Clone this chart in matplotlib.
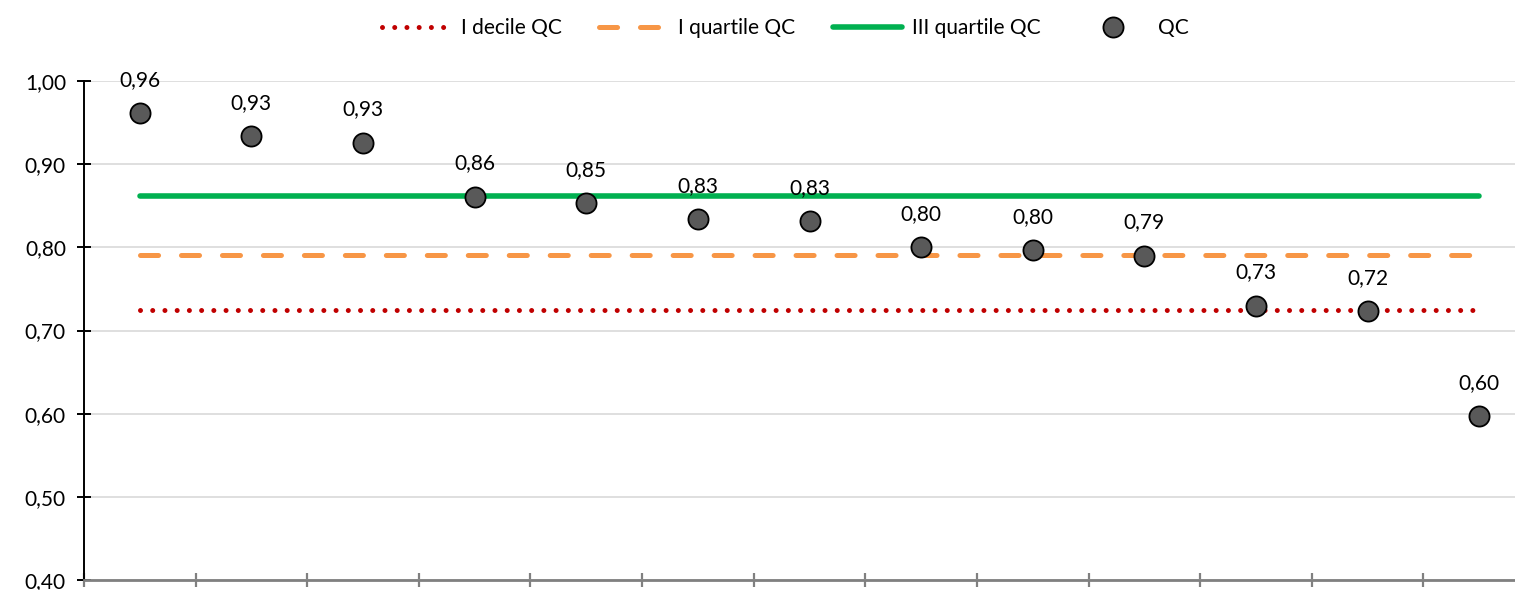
import matplotlib
matplotlib.use("Agg")
import matplotlib.pyplot as plt
from matplotlib.ticker import FuncFormatter, FixedLocator

plt.rcParams['font.family'] = ['Lato', 'DejaVu Sans']
plt.rcParams['lines.scale_dashes'] = False

# Data
categories = list(range(13))
qc_values = [0.961, 0.934, 0.926, 0.861, 0.853, 0.834, 0.832, 0.800, 0.797, 0.790, 0.730, 0.723, 0.597]
qc_labels = ["0,96", "0,93", "0,93", "0,86", "0,85", "0,83", "0,83", "0,80", "0,80", "0,79", "0,73", "0,72", "0,60"]
decile_1 = 0.725
quartile_1 = 0.791
quartile_3 = 0.862
y_ticks = [0.40, 0.50, 0.60, 0.70, 0.80, 0.90, 1.00]

FS = 15

fig = plt.figure(figsize=(15.15, 5.9), dpi=100)
ax = fig.add_axes([84/1515, 10/590, 1451/1515, (580-81)/590])

x_line = [categories[0], categories[-1]]
ax.plot(x_line, [decile_1]*2, color='#C00000', lw=3.6, dash_capstyle='round',
        linestyle=(0, (0.001, 8.8)), label='I decile QC', zorder=3)
ax.plot(x_line, [quartile_1]*2, color='#F79646', lw=3.6, dash_capstyle='round',
        linestyle=(0, (13, 16.5)), label='I quartile QC', zorder=3)
ax.plot(x_line, [quartile_3]*2, color='#00B050', lw=4, solid_capstyle='round',
        label='III quartile QC', zorder=3)
ax.plot(categories, qc_values, linestyle='none', marker='o', markersize=14.5,
        markerfacecolor='#595959', markeredgecolor='black', markeredgewidth=1.3,
        label='QC', zorder=4)

for x, v, lab in zip(categories, qc_values, qc_labels):
    ax.annotate(lab, (x, v), xytext=(0, 19.5), textcoords='offset points',
                ha='center', va='baseline', fontsize=FS, color='#000000',
                annotation_clip=False)

ax.set_xlim(-0.5, 12.5)
ax.set_ylim(0.40, 1.00)
ax.yaxis.set_major_locator(FixedLocator(y_ticks))
ax.yaxis.set_major_formatter(FuncFormatter(lambda v, p: f"{v:.2f}".replace('.', ',')))
ax.xaxis.set_major_locator(FixedLocator([i - 0.5 for i in range(14)]))
ax.set_xticklabels([])

ax.grid(axis='y', color='#D9D9D9', lw=1.2, zorder=0)
ax.set_axisbelow(True)
for s in ['top', 'right']:
    ax.spines[s].set_visible(False)
ax.spines['left'].set_color('black')
ax.spines['left'].set_linewidth(1.4)
ax.spines['bottom'].set_color('#808080')
ax.spines['bottom'].set_linewidth(2)
ax.tick_params(axis='y', direction='inout', length=10, width=1.4, color='black',
               labelsize=FS, pad=8)
ax.tick_params(axis='x', direction='inout', length=10, width=1.6, color='#808080')

handles, labels = ax.get_legend_handles_labels()
leg = fig.legend(handles, labels, loc='center', bbox_to_anchor=(785/1515, 1 - 28/590),
                 ncol=4, frameon=False, fontsize=FS, handlelength=3.3,
                 columnspacing=1.8, handletextpad=0.5)

fig.savefig('out.png', dpi=100)
